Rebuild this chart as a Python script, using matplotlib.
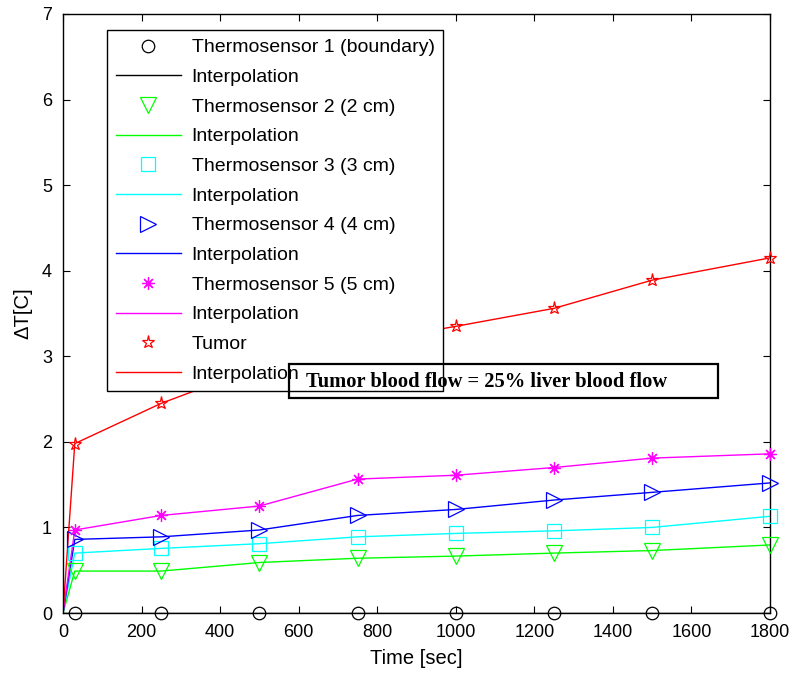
import matplotlib
matplotlib.use("Agg")
import matplotlib.pyplot as plt
from matplotlib.patches import Rectangle

time_s = [30, 250, 500, 750, 1000, 1250, 1500, 1800]
sensor1 = [0, 0, 0, 0, 0, 0, 0, 0]
sensor2 = [0.49, 0.49, 0.59, 0.64, 0.665, 0.70, 0.73, 0.795]
sensor3 = [0.70, 0.755, 0.81, 0.89, 0.93, 0.96, 1.00, 1.13]
sensor4 = [0.86, 0.89, 0.97, 1.14, 1.21, 1.32, 1.41, 1.52]
sensor5 = [0.97, 1.14, 1.25, 1.565, 1.61, 1.70, 1.81, 1.86]
tumor = [1.98, 2.45, 2.88, 3.15, 3.35, 3.56, 3.89, 4.15]

labels = ["Thermosensor 1 (boundary)", "Thermosensor 2 (2 cm)", "Thermosensor 3 (3 cm)",
          "Thermosensor 4 (4 cm)", "Thermosensor 5 (5 cm)", "Tumor"]
series = [sensor1, sensor2, sensor3, sensor4, sensor5, tumor]
colors = ["black", "#00ff00", "#00ffff", "#0000ff", "#ff00ff", "#ff0000"]
markers = ["o", "v", "s", ">", (8, 2, 0), "*"]
msizes = [9, 11, 9.5, 11, 9, 9.5]

plt.rcParams['font.family'] = ['Liberation Sans', 'DejaVu Sans']

fig = plt.figure(figsize=(7.93, 6.77), dpi=100)
ax = fig.add_axes([63/793, 1-613/677, (770-63)/793, (613-14)/677])

for lab, ys, c, m, ms in zip(labels, series, colors, markers, msizes):
    ax.plot(time_s, ys, linestyle='none', marker=m, markersize=ms,
            markerfacecolor='none', markeredgecolor=c, markeredgewidth=0.9,
            label=lab, clip_on=False, zorder=3)
    ax.plot([0] + time_s, [0] + ys, color=c, linewidth=1.0,
            label="Interpolation", zorder=2)

ax.set_xlim(0, 1800)
ax.set_ylim(0, 7)
ax.set_xticks(range(0, 1801, 200))
ax.set_yticks(range(0, 8))
ax.tick_params(direction='in', top=True, right=True, labelsize=13, length=5, pad=8)
for s in ax.spines.values():
    s.set_linewidth(1.0)
ax.set_xlabel("Time [sec]", fontsize=14.5, labelpad=6)
ax.set_ylabel("ΔT[C]", fontsize=14.5, labelpad=7)

leg = ax.legend(loc='upper left', bbox_to_anchor=((107-63)/707, (613-30)/599),
                fontsize=14, markerscale=1.0, frameon=True, fancybox=False,
                edgecolor='black', framealpha=1, borderpad=0.45, labelspacing=0.62,
                handlelength=3.35, handletextpad=0.55, borderaxespad=0)
leg.get_frame().set_linewidth(1.0)
leg.set_zorder(5)

fig.add_artist(Rectangle((289/793, 1-398/677), (718-289)/793, (398-364)/677,
                         transform=fig.transFigure, fill=False, edgecolor='black',
                         linewidth=1.6, zorder=6))
fig.text(306/793, 1-382/677, "Tumor blood flow = 25% liver blood flow",
         fontsize=14.8, fontweight='bold', family='Liberation Serif',
         va='center', ha='left', zorder=7)

fig.savefig("out.png", dpi=100)
